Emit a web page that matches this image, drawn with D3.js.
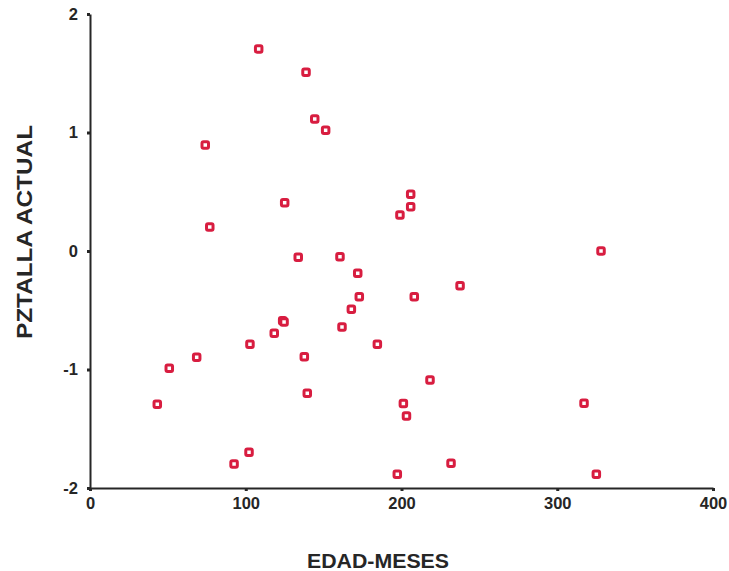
<!DOCTYPE html>
<html>
<head>
<meta charset="utf-8">
<script src="https://cdn.jsdelivr.net/npm/d3@7/dist/d3.min.js"></script>
<style>
  html, body { margin: 0; padding: 0; background: #fff; }
  svg { display: block; }
  text { font-family: "Liberation Sans", Arial, sans-serif; font-weight: bold; fill: #262626; }
</style>
</head>
<body>
<svg id="chart" width="729" height="571"></svg>
<script>
const edadMeses = [108.3, 138.7, 144.3, 151.3, 74.0, 205.9, 205.9, 199.0, 125.0, 76.9,
  328.1, 160.5, 133.7, 171.9, 172.9, 208.2, 237.6, 167.8, 161.8, 123.7, 124.6,
  118.3, 102.7, 68.5, 50.9, 43.2, 137.6, 139.5, 184.5, 218.3, 201.2, 203.2,
  317.2, 102.1, 92.5, 197.3, 231.8, 325.1];
const pztallaActual = [1.705, 1.508, 1.114, 1.019, 0.895, 0.478, 0.374, 0.304, 0.408, 0.203,
  0.0, -0.048, -0.053, -0.188, -0.386, -0.386, -0.293, -0.492, -0.641, -0.588, -0.600,
  -0.695, -0.787, -0.897, -0.990, -1.294, -0.892, -1.201, -0.787, -1.089, -1.287, -1.392,
  -1.285, -1.699, -1.797, -1.884, -1.792, -1.884];
const xTicks = [0, 100, 200, 300, 400];
const yTicks = [-2, -1, 0, 1, 2];
const xTitle = "EDAD-MESES";
const yTitle = "PZTALLA ACTUAL";

const svg = d3.select("#chart");
const x = d3.scaleLinear().domain([0, 400]).range([90, 713]);
const y = d3.scaleLinear().domain([-2, 2]).range([488, 14]);

const axisColor = "#262626";

const gx = svg.append("g").attr("transform", `translate(0,${y(-2)})`)
  .call(d3.axisBottom(x).tickValues(xTicks).tickFormat(d3.format("d")).tickSize(3).tickPadding(6).tickSizeOuter(0));
gx.select(".domain").attr("stroke", axisColor).attr("stroke-width", 2);
gx.selectAll(".tick line").attr("stroke", axisColor).attr("stroke-width", 3);
gx.selectAll(".tick text").attr("font-size", 16.5).attr("font-family", "Liberation Sans, Arial, sans-serif").attr("font-weight", "bold").attr("fill", axisColor);

const gy = svg.append("g").attr("transform", `translate(${x(0)},0)`)
  .call(d3.axisLeft(y).tickValues(yTicks).tickFormat(d3.format("d")).tickSize(3).tickPadding(9).tickSizeOuter(0));
gy.select(".domain").attr("stroke", axisColor).attr("stroke-width", 2);
gy.selectAll(".tick line").attr("stroke", axisColor).attr("stroke-width", 3);
gy.selectAll(".tick text").attr("font-size", 16.5).attr("font-family", "Liberation Sans, Arial, sans-serif").attr("font-weight", "bold").attr("fill", axisColor)
  .text(d => d < 0 ? "-" + Math.abs(d) : d);

svg.append("text").attr("x", 378).attr("y", 568).attr("text-anchor", "middle")
  .attr("font-size", 20.5).attr("textLength", 142).attr("lengthAdjust", "spacingAndGlyphs").text(xTitle);

svg.append("text").attr("transform", `translate(32,232) rotate(-90)`).attr("text-anchor", "middle")
  .attr("font-size", 22).attr("textLength", 214).attr("lengthAdjust", "spacingAndGlyphs").text(yTitle);

const pts = edadMeses.map((v, i) => ({ x: v, y: pztallaActual[i] }));
svg.append("g").selectAll("rect").data(pts).join("rect")
  .attr("x", d => x(d.x) - 3.25).attr("y", d => y(d.y) - 3.25)
  .attr("width", 6.5).attr("height", 6.5).attr("rx", 1.5)
  .attr("fill", "#fff").attr("stroke", "#d81d40").attr("stroke-width", 3);
</script>
</body>
</html>
